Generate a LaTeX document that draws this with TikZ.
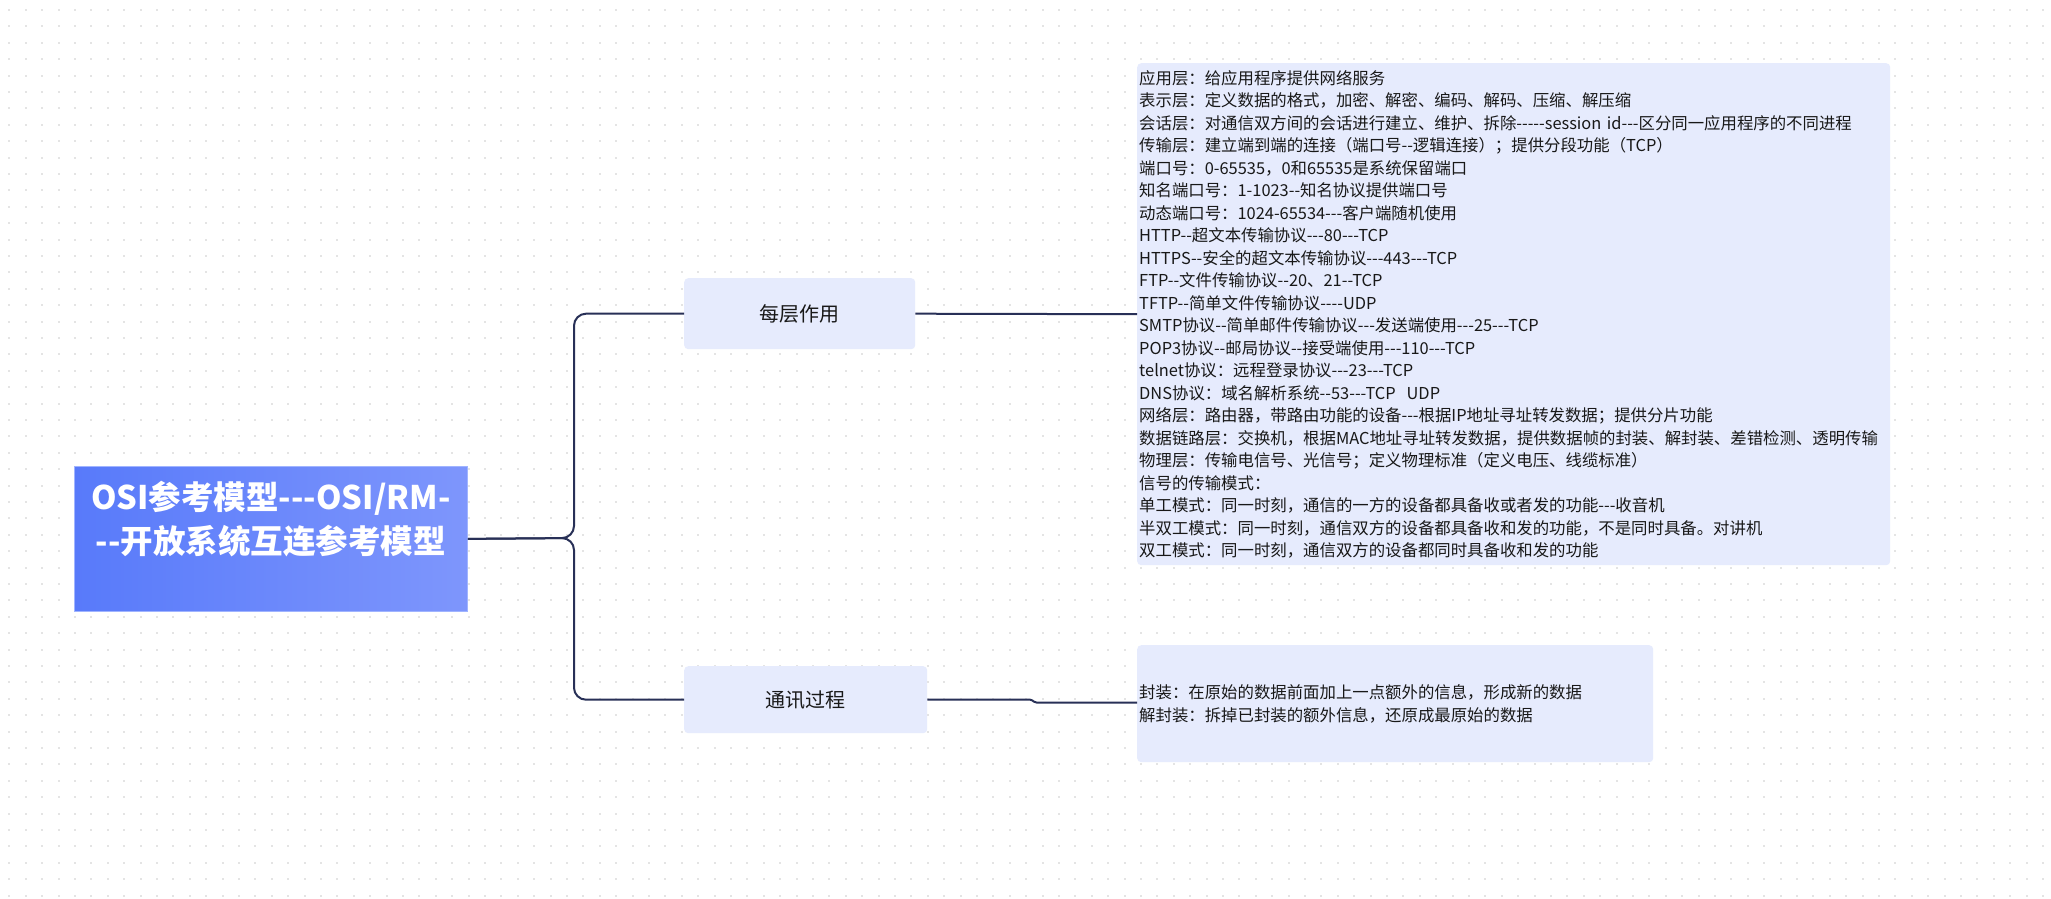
\documentclass[tikz,border=0pt]{standalone}
\usepackage{fontspec}
\newfontfamily\cjk{Noto Sans CJK SC}
\definecolor{linec}{RGB}{40,48,87}
\definecolor{boxfill}{RGB}{230,235,253}
\definecolor{dotc}{RGB}{228,228,228}
\definecolor{rootL}{RGB}{88,122,250}
\definecolor{rootR}{RGB}{126,150,252}
\definecolor{rootB}{RGB}{160,180,255}
\definecolor{txt}{RGB}{24,24,24}
\tikzset{
  every node/.style={font=\cjk},
  conn/.style={draw=linec,line width=2pt,rounded corners=12pt},
  rootbox/.style={draw=rootB,line width=0.8pt,left color=rootL,right color=rootR,
    text=white,align=center,inner sep=0pt,anchor=north west,
    font=\cjk\bfseries\fontsize{32.5}{44}\selectfont},
  branchbox/.style={fill=boxfill,rounded corners=4pt,text=txt,inner sep=0pt,
    anchor=north west,font=\cjk\fontsize{20}{24}\selectfont},
  detailbox/.style={fill=boxfill,rounded corners=4pt,text=txt,align=left,
    inner ysep=0pt,inner xsep=2pt,anchor=north west,
    font=\cjk\fontsize{16.4}{22.5}\selectfont}
}
\begin{document}
\begin{tikzpicture}[x=1pt,y=-1pt]
\useasboundingbox (0,0) rectangle (2051,899);
\fill[white] (0,0) rectangle (2051,899);
\foreach \j in {0,...,54}{
  \foreach \k in {0,...,124}{
    \fill[dotc] (8.3+16.4*\k,9+16.4*\j) rectangle ++(2,2);
  }
}
\node[rootbox,minimum width=393pt,minimum height=145pt] (root) at (74,466)
  {OSI参考模型---OSI/RM-\\--开放系统互连参考模型\\\mbox{}};
\node[branchbox,minimum width=231pt,minimum height=71pt] (b1) at (684,278) {每层作用};
\node[branchbox,minimum width=243pt,minimum height=67pt] (b2) at (684,666) {通讯过程};
\node[detailbox,minimum width=753pt,minimum height=502pt,text width=749pt] (d1) at (1137,63) {%
应用层：给应用程序提供网络服务\\
表示层：定义数据的格式，加密、解密、编码、解码、压缩、解压缩\\
会话层：对通信双方间的会话进行建立、维护、拆除-----session id---区分同一应用程序的不同进程\\
传输层：建立端到端的连接（端口号--逻辑连接）；提供分段功能（TCP）\\
端口号：0-65535，0和65535是系统保留端口\\
知名端口号：1-1023--知名协议提供端口号\\
动态端口号：1024-65534---客户端随机使用\\
HTTP--超文本传输协议---80---TCP\\
HTTPS--安全的超文本传输协议---443---TCP\\
FTP--文件传输协议--20、21--TCP\\
TFTP--简单文件传输协议----UDP\\
SMTP协议--简单邮件传输协议---发送端使用---25---TCP\\
POP3协议--邮局协议--接受端使用---110---TCP\\
telnet协议：远程登录协议---23---TCP\\
DNS协议：域名解析系统--53---TCP\ \ UDP\\
网络层：路由器，带路由功能的设备---根据IP地址寻址转发数据；提供分片功能\\
数据链路层：交换机，根据MAC地址寻址转发数据，提供数据帧的封装、解封装、差错检测、透明传输\\
物理层：传输电信号、光信号；定义物理标准（定义电压、线缆标准）\\
信号的传输模式：\\
单工模式：同一时刻，通信的一方的设备都具备收或者发的功能---收音机\\
半双工模式：同一时刻，通信双方的设备都具备收和发的功能，不是同时具备。对讲机\\
双工模式：同一时刻，通信双方的设备都同时具备收和发的功能};
\node[detailbox,minimum width=516pt,minimum height=117pt,text width=512pt,inner xsep=1pt] (d2) at (1137,645) {%
封装：在原始的数据前面加上一点额外的信息，形成新的数据\\
解封装：拆掉已封装的额外信息，还原成最原始的数据};
\coordinate (jx) at (574,538);
\draw[conn] (root.east) -- (jx) |- (b1.west);
\draw[conn] (root.east) -- (jx) |- (b2.west);
\draw[conn] (b1.east) -- (d1.west);
\coordinate (s1) at (1031,699.5);
\coordinate (s2) at (1035,702.5);
\draw[conn,rounded corners=1.5pt] (b2.east) -- (s1) -- (s2) -- (s2 -| d2.west);
\end{tikzpicture}
\end{document}
